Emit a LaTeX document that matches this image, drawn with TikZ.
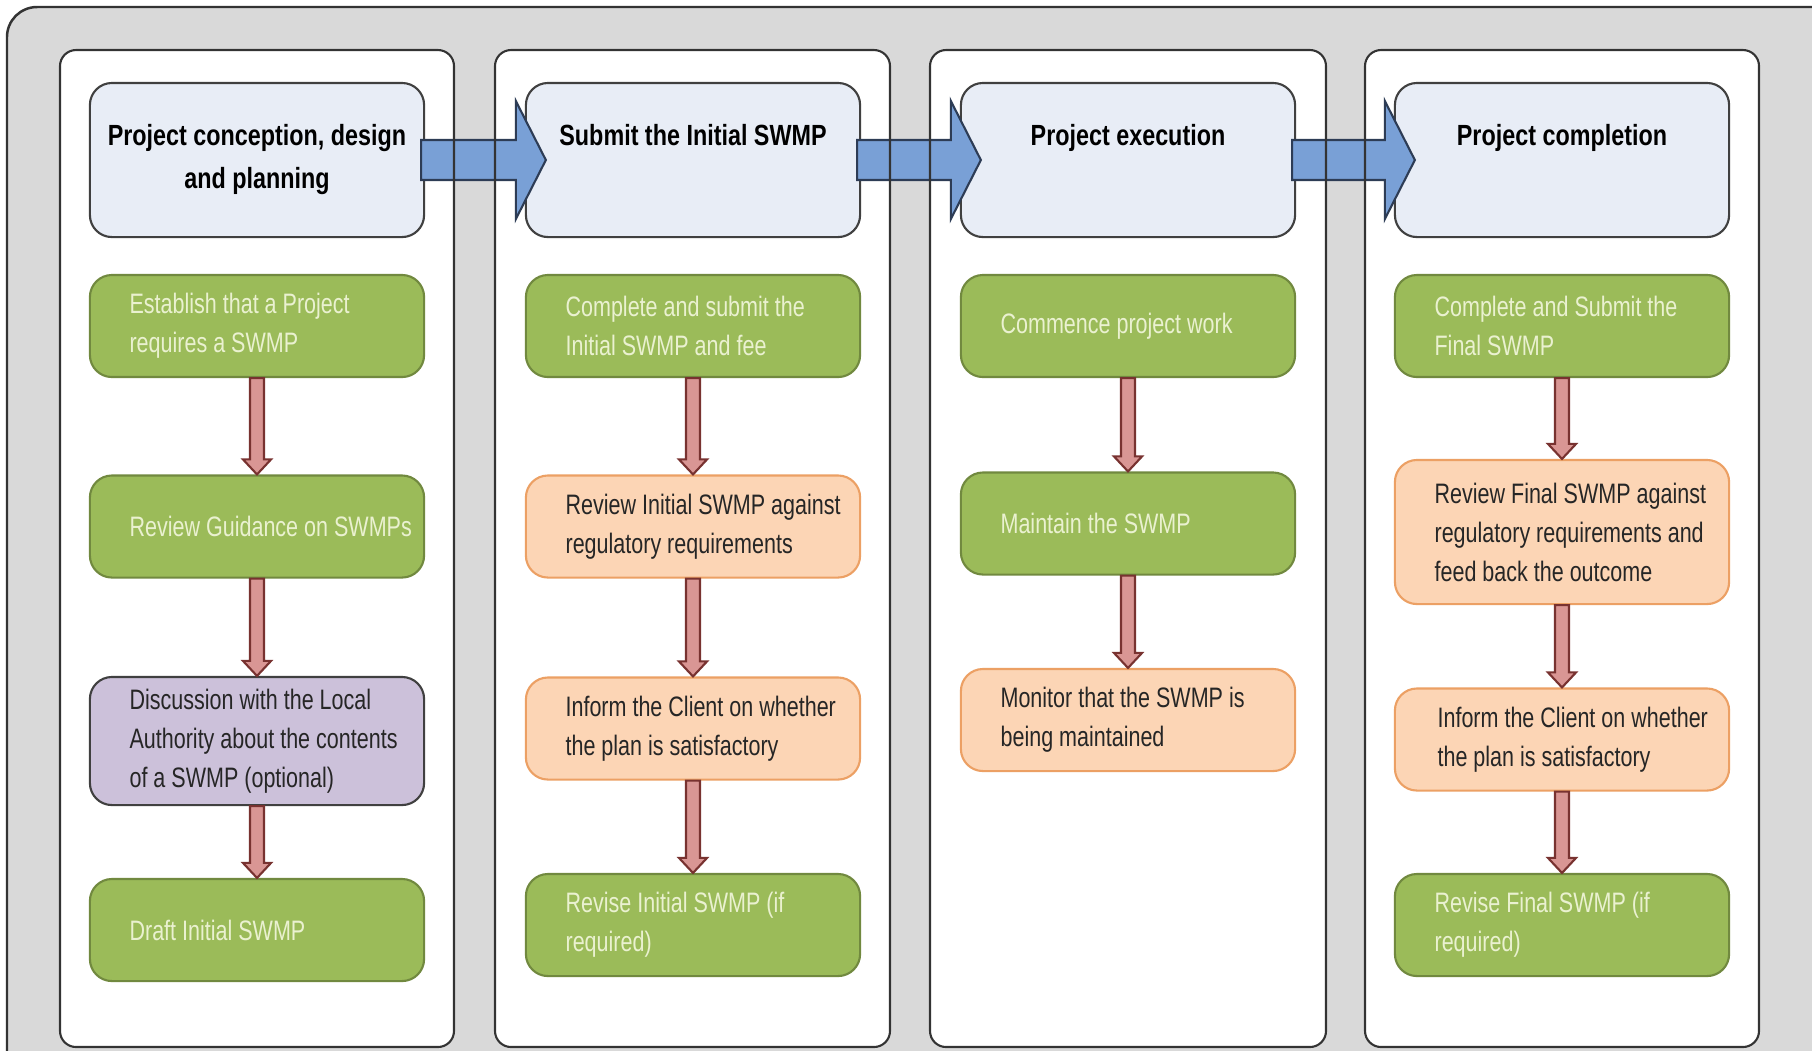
\documentclass[tikz,border=0pt]{standalone}
\usepackage{fontspec}
\setmainfont[FakeStretch=0.8]{Liberation Sans}
\newfontfamily\stepfamily[FakeStretch=0.765]{Liberation Sans}
\usetikzlibrary{calc}
\definecolor{panelgrey}{RGB}{217,217,217}
\definecolor{headfill}{RGB}{232,237,246}
\definecolor{flowblue}{RGB}{121,160,214}
\definecolor{flowblueline}{RGB}{45,60,85}
\definecolor{stepgreen}{RGB}{155,187,89}
\definecolor{stepgreenline}{RGB}{113,137,63}
\definecolor{stepgreentext}{RGB}{234,241,208}
\definecolor{steporange}{RGB}{252,213,181}
\definecolor{steporangeline}{RGB}{236,160,100}
\definecolor{steppurple}{RGB}{204,193,218}
\definecolor{downfill}{RGB}{217,150,148}
\definecolor{downline}{RGB}{120,50,48}
\newcommand\hdfont{\fontsize{8.3}{12.2}\selectfont\bfseries}
\newcommand\bxfont{\stepfamily\fontsize{8}{11.1}\selectfont}
\def\blockdown(#1)(#2){\draw[downarrow] ($(#1.south)+(-7,0)$) -- ($(#2.north)+(-7,-15)$) -- ($(#2.north)+(-14,-15)$) -- (#2.north) -- ($(#2.north)+(14,-15)$) -- ($(#2.north)+(7,-15)$) -- ($(#1.south)+(7,0)$) -- cycle;}
\def\blockright(#1)(#2){\draw[rightarrow] ($(#1.east)+(-4,-20)$) -- ($(#2.west)+(-9,-20)$) -- ($(#2.west)+(-9,-59)$) -- ($(#2.west)+(21,0)$) -- ($(#2.west)+(-9,59)$) -- ($(#2.west)+(-9,20)$) -- ($(#1.east)+(-4,20)$) -- cycle;}
\tikzset{
  panel/.style={draw=black!80, line width=0.6pt, rounded corners=1.6mm},
  head/.style={draw=black!75, fill=headfill, line width=0.6pt, rounded corners=2.2mm, minimum width=3.34cm, minimum height=1.54cm, inner sep=0pt},
  headtext/.style={anchor=north, align=center, inner sep=0pt, font=\hdfont},
  stepbox/.style={line width=0.6pt, rounded corners=2.2mm, minimum width=3.34cm, minimum height=1.02cm, inner sep=0pt},
  greenbox/.style={stepbox, draw=stepgreenline, fill=stepgreen},
  orangebox/.style={stepbox, draw=steporangeline, fill=steporange},
  purplebox/.style={stepbox, draw=black!75, fill=steppurple},
  steptext/.style={anchor=west, align=left, inner sep=0pt, font=\bxfont, text=black!85},
  greentext/.style={steptext, text=stepgreentext},
  downarrow/.style={draw=downline, fill=downfill, line width=0.6pt},
  rightarrow/.style={draw=flowblueline, fill=flowblue, line width=0.6pt}
}

\begin{document}
\begin{tikzpicture}[x=0.01cm, y=-0.01cm]
		% background
		\fill[white] (0,0) rectangle (1812,1050);
		\clip (0,0) rectangle (1812,1050);
		\draw[fill=panelgrey, draw=black!80, line width=0.7pt, rounded corners=3mm] (7,7) rectangle (1850,1090);
		
		\fill[panel, white] (60,50) rectangle (454,1047);
		\fill[panel, white] (495,50) rectangle (890,1047);
		\fill[panel, white] (930,50) rectangle (1326,1047);
		\fill[panel, white] (1365,50) rectangle (1759,1047);
		
		% headers
		\node[head] (h1) at (257,160) {};
		\node[head] (h2) at (693,160) {};
		\node[head] (h3) at (1128,160) {};
		\node[head] (h4) at (1562,160) {};
		\node[headtext] (h1t) at ([yshift=-4.2mm]h1.north) {Project conception, design\\and planning};
		\node[headtext] (h2t) at ([yshift=-4.2mm]h2.north) {Submit the Initial SWMP};
		\node[headtext] (h3t) at ([yshift=-4.2mm]h3.north) {Project execution};
		\node[headtext] (h4t) at ([yshift=-4.2mm]h4.north) {Project completion};
		
		% first column
		\node[greenbox] (b11) at (257,326) {};
		\node[greenbox] (b12) at (257,526.5) {};
		\node[purplebox, minimum height=1.28cm] (b13) at (257,741) {};
		\node[greenbox] (b14) at (257,930) {};
		\node[greentext] (b11t) at ([xshift=4mm]b11.west) {Establish that a Project\\requires a SWMP};
		\node[greentext] (b12t) at ([xshift=4mm]b12.west) {Review Guidance on SWMPs};
		\node[steptext] (b13t) at ([xshift=4mm]b13.west) {Discussion with the Local\\Authority about the contents\\of a SWMP (optional)};
		\node[greentext] (b14t) at ([xshift=4mm]b14.west) {Draft Initial SWMP};
		
		% second column
		\node[greenbox] (b21) at (693,326) {};
		\node[orangebox] (b22) at (693,526.5) {};
		\node[orangebox] (b23) at (693,728.5) {};
		\node[greenbox] (b24) at (693,925) {};
		\node[greentext] (b21t) at ([xshift=4mm]b21.west) {Complete and submit the\\Initial SWMP and fee};
		\node[steptext] (b22t) at ([xshift=4mm]b22.west) {Review Initial SWMP against\\regulatory requirements};
		\node[steptext] (b23t) at ([xshift=4mm]b23.west) {Inform the Client on whether\\the plan is satisfactory};
		\node[greentext] (b24t) at ([xshift=4mm]b24.west) {Revise Initial SWMP (if\\required)};
		
		% third column
		\node[greenbox] (b31) at (1128,326) {};
		\node[greenbox] (b32) at (1128,523.5) {};
		\node[orangebox] (b33) at (1128,720) {};
		\node[greentext] (b31t) at ([xshift=4mm]b31.west) {Commence project work};
		\node[greentext] (b32t) at ([xshift=4mm]b32.west) {Maintain the SWMP};
		\node[steptext] (b33t) at ([xshift=4mm]b33.west) {Monitor that the SWMP is\\being maintained};
		
		% fourth column
		\node[greenbox] (b41) at (1562,326) {};
		\node[orangebox, minimum height=1.44cm] (b42) at (1562,532) {};
		\node[orangebox] (b43) at (1562,739.5) {};
		\node[greenbox] (b44) at (1562,925) {};
		\node[greentext] (b41t) at ([xshift=4mm]b41.west) {Complete and Submit the\\Final SWMP};
		\node[steptext] (b42t) at ([xshift=4mm]b42.west) {Review Final SWMP against\\regulatory requirements and\\feed back the outcome};
		\node[steptext] (b43t) at ([xshift=4.3mm]b43.west) {Inform the Client on whether\\the plan is satisfactory};
		\node[greentext] (b44t) at ([xshift=4mm]b44.west) {Revise Final SWMP (if\\required)};
		
		% arrows
		\blockdown(b11)(b12)
		\blockdown(b12)(b13)
		\blockdown(b13)(b14)
		\blockdown(b21)(b22)
		\blockdown(b22)(b23)
		\blockdown(b23)(b24)
		\blockdown(b31)(b32)
		\blockdown(b32)(b33)
		\blockdown(b41)(b42)
		\blockdown(b42)(b43)
		\blockdown(b43)(b44)
		
		\blockright(h1)(h2)
		\blockright(h2)(h3)
		\blockright(h3)(h4)
		
		% panel borders on top
		\draw[panel] (60,50) rectangle (454,1047);
		\draw[panel] (495,50) rectangle (890,1047);
		\draw[panel] (930,50) rectangle (1326,1047);
		\draw[panel] (1365,50) rectangle (1759,1047);
	\end{tikzpicture}
\end{document}
